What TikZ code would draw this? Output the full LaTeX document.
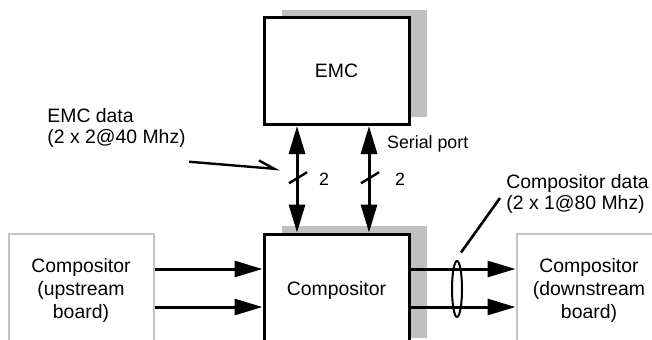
\documentclass[tikz,border=0pt]{standalone}
\usepackage{fontspec}
\setmainfont{Liberation Sans}
\usetikzlibrary{arrows.meta, positioning, calc, shapes.geometric, shadows}
\definecolor{shadowgray}{RGB}{192,192,192}
\definecolor{boardgray}{RGB}{196,196,196}

\begin{document}
\begin{tikzpicture}[x=0.5pt, y=-0.5pt,
  blk/.style={draw, line width=1.5pt, fill=white, minimum width=72.5pt, minimum height=53.5pt,
    align=center, font=\fontsize{9.7}{11.5}\selectfont,
    drop shadow={shadow xshift=8.75pt, shadow yshift=4pt, fill=shadowgray, opacity=1}},
  ext/.style={draw=boardgray, line width=1pt, minimum width=72.5pt, minimum height=56pt,
    align=center, font=\fontsize{9.7}{11.5}\selectfont},
  lbl/.style={inner sep=0pt, align=left, font=\fontsize{9.7}{10.3}\selectfont},
  sml/.style={font=\fontsize{8.9}{10.5}\selectfont},
  bus/.style={line width=1.5pt, -{Triangle[length=14pt, width=8pt]}},
  dbus/.style={line width=1.5pt, {Triangle[length=14pt, width=8pt]}-{Triangle[length=14pt, width=8pt]}},
  slash/.style={line width=1.2pt},
  ptr/.style={line width=1.2pt, -{Straight Barb[left, length=8pt, width=7pt]}},
]
\useasboundingbox (0,0) rectangle (652,339);
\clip (0,0) rectangle (652,339);

% blocks
\node[blk, minimum height=56pt] (comp) at (336.5,290) {Compositor};
\node[blk, above=53.25pt of comp] (emc) {EMC};
\node[ext, left=54pt of comp] (up) {Compositor\\(upstream\\board)};
\node[ext, right=52.5pt of comp] (down) {Compositor\\(downstream\\board)};

% board to board data
\draw[bus] ([yshift=10.5pt]up.east) -- ([yshift=10.5pt]comp.west);
\draw[bus] ([yshift=-8.5pt]up.east) -- ([yshift=-8.5pt]comp.west);
\draw[bus] ([yshift=10.5pt]comp.east) -- ([yshift=10.5pt]down.west);
\draw[bus] ([yshift=-8.5pt]comp.east) -- ([yshift=-8.5pt]down.west);

% EMC links
\draw[dbus] ([xshift=-19.75pt]emc.south) -- coordinate (sl1) node[sml, right=7pt] {2}
  ([xshift=-19.75pt]comp.north);
\draw[dbus] ([xshift=16.25pt]emc.south) -- coordinate (sl2) node[sml, right=9pt] {2}
  node[sml, pos=0.17, right=5pt] {Serial port} ([xshift=16.25pt]comp.north);
\draw[slash] ($(sl1)+(-8,4)$) -- ($(sl1)+(10,-7)$);
\draw[slash] ($(sl2)+(-8,4)$) -- ($(sl2)+(10,-7)$);

% labels
\node[lbl, anchor=west] (edata) at (47,128) {EMC data\\(2 x 2@40 Mhz)};
\node[lbl, anchor=west] (cdata) at (506,194) {Compositor data\\(2 x 1@80 Mhz)};
\node[draw, ellipse, line width=1pt, inner sep=0pt, minimum width=5pt, minimum height=28pt] (bund) at (457,289) {};

\draw[ptr] ([shift={(1.5pt,-7pt)}]edata.south east) -- ([shift={(-8.5pt,5pt)}]sl1);
\draw[line width=1.3pt] ([shift={(2pt,3.75pt)}]bund.north) -- ([shift={(-3pt,-2pt)}]cdata.west);
\end{tikzpicture}
\end{document}
